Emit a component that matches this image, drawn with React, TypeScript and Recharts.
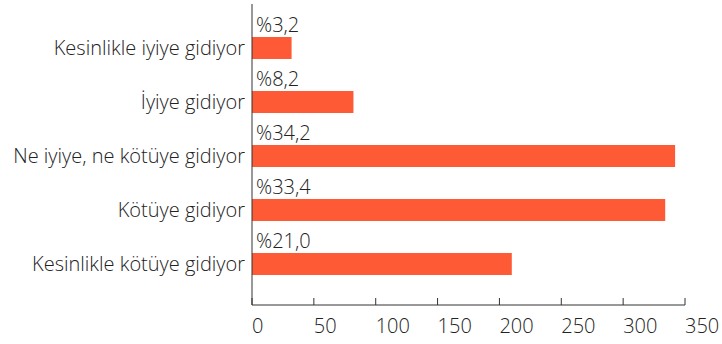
import React from 'react';
import { BarChart, Bar, XAxis, YAxis, LabelList } from 'recharts';

const categories = [
  'Kesinlikle iyiye gidiyor',
  'İyiye gidiyor',
  'Ne iyiye, ne kötüye gidiyor',
  'Kötüye gidiyor',
  'Kesinlikle kötüye gidiyor',
];
const counts = [32, 82, 342, 334, 210];
const shares = ['%3,2', '%8,2', '%34,2', '%33,4', '%21,0'];
const xTicks = [0, 50, 100, 150, 200, 250, 300, 350];

const data = categories.map((name, i) => ({ name, value: counts[i], share: shares[i] }));

const FONT = '"Open Sans", Lato, sans-serif';
const TEXT = '#222222';
const BAR = '#ff5a36';

// x ticks sit on the left of each label and point up into the plot
const XTick = ({ x, y, payload }: any) => (
  <g>
    <line x1={x} x2={x} y1={y - 7} y2={y} stroke="#333" strokeWidth={1} />
    <text x={x} y={y + 28} textAnchor="start" fontSize={20} fontWeight={300} fontFamily={FONT} fill={TEXT}>
      {payload.value}
    </text>
  </g>
);

const ShareLabel = ({ x, y, index }: any) => (
  <text x={x + 4} y={y - 5} fontSize={20} fontWeight={300} fontFamily={FONT} fill={TEXT}>
    {shares[index]}
  </text>
);

export default function App() {
  return (
    <div style={{ position: 'absolute', left: 0, top: 0, width: 722, height: 344, background: '#fff' }}>
      <BarChart
        width={722}
        height={344}
        data={data}
        layout="vertical"
        margin={{ top: 4, right: 37, bottom: 0, left: 0 }}
      >
        <XAxis
          type="number"
          domain={[0, 350]}
          ticks={xTicks}
          height={39}
          axisLine={{ stroke: '#333', strokeWidth: 1 }}
          tickLine={false}
          tickSize={0}
          tickMargin={0}
          tick={<XTick />}
          interval={0}
        />
        <YAxis
          type="category"
          dataKey="name"
          width={252}
          padding={{ top: 17, bottom: 14 }}
          axisLine={{ stroke: '#333', strokeWidth: 1 }}
          tickLine={false}
          tickSize={0}
          tickMargin={7}
          tick={{ fontSize: 20, fontWeight: 300, fontFamily: FONT, fill: TEXT }}
        />
        <Bar dataKey="value" fill={BAR} barSize={22} isAnimationActive={false}>
          <LabelList dataKey="share" content={<ShareLabel />} />
        </Bar>
      </BarChart>
    </div>
  );
}
